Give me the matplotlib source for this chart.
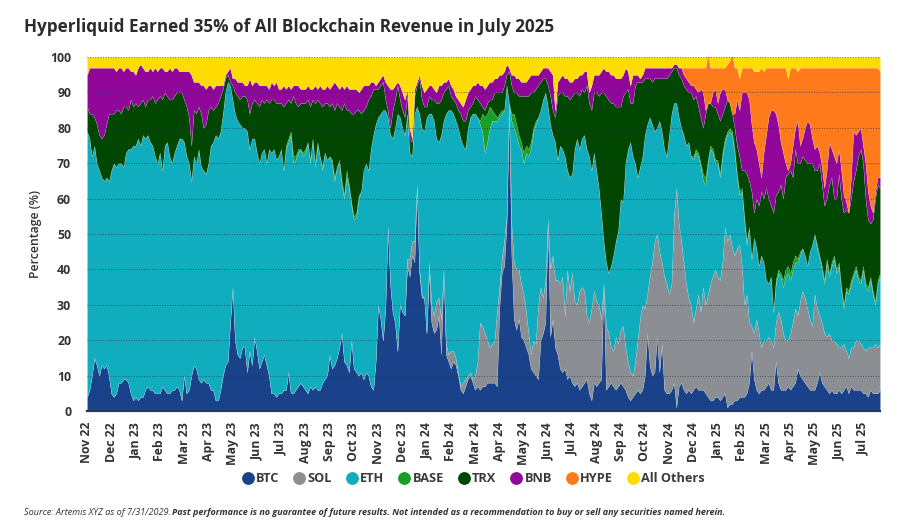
import numpy as np
import matplotlib
matplotlib.use('Agg')
import matplotlib.pyplot as plt
from matplotlib.lines import Line2D

plt.rcParams['font.family'] = ['Open Sans', 'DejaVu Sans']

months = ['Nov 22', 'Dec 22', 'Jan 23', 'Feb 23', 'Mar 23', 'Apr 23', 'May 23', 'Jun 23', 'Jul 23', 'Aug 23', 'Sep 23',
          'Oct 23', 'Nov 23', 'Dec 23', 'Jan 24', 'Feb 24', 'Mar 24', 'Apr 24', 'May 24', 'Jun 24', 'Jul 24', 'Aug 24',
          'Sep 24', 'Oct 24', 'Nov 24', 'Dec 24', 'Jan 25', 'Feb 25', 'Mar 25', 'Apr 25', 'May 25', 'Jun 25', 'Jul 25']
points_per_month = 10

# 10 readings per month, one month per row
btc = [4, 6, 10, 15, 13, 10, 13, 12, 13, 10,
       5, 4, 5, 8, 8, 9, 9, 8, 5, 3,
       4, 3, 4, 4, 6, 7, 6, 6, 5, 5,
       5, 7, 6, 5, 5, 6, 6, 7, 6, 3,
       10, 5, 6, 10, 13, 12, 9, 8, 9, 8,
       8, 6, 6, 3, 3, 6, 10, 13, 14, 25,
       35, 20, 16, 15, 18, 18, 11, 17, 13, 21,
       17, 12, 14, 16, 13, 10, 5, 5, 4, 5,
       5, 6, 6, 11, 5, 5, 6, 7, 8, 7,
       6, 5, 7, 6, 7, 6, 6, 8, 9, 10,
       16, 12, 13, 15, 18, 22, 14, 13, 11, 20,
       12, 11, 10, 11, 9, 11, 10, 7, 6, 14,
       30, 26, 20, 29, 52, 36, 28, 25, 17, 30,
       28, 27, 41, 38, 44, 42, 63, 39, 32, 32,
       22, 39, 25, 22, 23, 27, 16, 40, 16, 14,
       12, 14, 13, 10, 6, 5, 7, 9, 10, 8,
       6, 7, 6, 7, 7, 8, 8, 8, 8, 7,
       29, 39, 41, 53, 85, 44, 26, 23, 26, 21,
       20, 18, 16, 12, 11, 10, 9, 20, 22, 25,
       54, 21, 26, 18, 16, 12, 11, 12, 9, 10,
       8, 7, 8, 6, 7, 8, 9, 5, 3, 8,
       7, 8, 9, 36, 6, 7, 8, 7, 6, 7,
       8, 7, 6, 4, 3, 4, 5, 6, 5, 6,
       10, 22, 13, 10, 11, 21, 11, 19, 6, 5,
       5, 6, 8, 1, 7, 8, 6, 5, 6, 5,
       6, 7, 6, 6, 6, 5, 4, 3, 3, 4,
       4, 3, 4, 5, 1, 2, 2, 3, 3, 4,
       4, 4, 5, 8, 17, 9, 6, 5, 6, 6,
       7, 8, 6, 6, 14, 8, 6, 6, 6, 7,
       6, 7, 8, 12, 10, 9, 8, 7, 6, 6,
       6, 8, 11, 8, 7, 6, 5, 6, 5, 5,
       6, 5, 6, 7, 5, 7, 6, 6, 6, 6,
       5, 5, 4, 6, 5, 5, 5, 6]
sol = [0] * 130 + [
       0, 0, 2, 5, 4, 6, 1, 1, 1, 0,
       0, 3, 5, 5, 8, 5, 10, 0, 3, 2,
       5, 3, 2, 1, 1, 3, 2, 1, 1, 1,
       4, 7, 19, 17, 15, 12, 10, 11, 12, 21,
       6, 4, 7, 2, 2, 9, 16, 17, 14, 15,
       13, 10, 6, 4, 9, 9, 21, 15, 10, 12,
       0, 19, 18, 19, 21, 24, 27, 15, 31, 24,
       31, 24, 22, 28, 28, 26, 18, 20, 26, 26,
       24, 22, 17, 0, 18, 15, 10, 10, 15, 12,
       15, 17, 12, 10, 8, 6, 9, 14, 21, 24,
       19, 11, 25, 32, 37, 29, 34, 23, 32, 31,
       28, 30, 47, 62, 46, 40, 36, 31, 26, 25,
       19, 22, 27, 22, 29, 25, 29, 33, 35, 36,
       34, 34, 38, 47, 47, 48, 44, 41, 43, 43,
       37, 26, 28, 17, 7, 13, 20, 17, 12, 14,
       13, 13, 14, 12, 11, 20, 20, 16, 14, 13,
       16, 18, 21, 15, 21, 25, 24, 22, 20, 18,
       27, 21, 16, 17, 15, 15, 17, 14, 15, 14,
       12, 13, 13, 10, 10, 11, 12, 14, 14, 13,
       13, 12, 14, 12, 13, 14, 13, 13]
# upper edge of the ETH band
eth_top = [79, 77, 72, 75, 70, 68, 66, 65, 66, 65,
           68, 70, 69, 70, 70, 69, 73, 74, 74, 75,
           75, 77, 75, 78, 77, 78, 76, 75, 72, 70,
           73, 68, 75, 76, 72, 70, 73, 75, 77, 77,
           76, 72, 70, 65, 72, 70, 74, 69, 68, 67,
           70, 75, 76, 78, 77, 79, 84, 90, 93, 92,
           88, 84, 82, 81, 80, 80, 79, 74, 77, 77,
           73, 70, 73, 74, 70, 74, 73, 74, 71, 72,
           74, 68, 74, 76, 78, 70, 71, 73, 74, 72,
           73, 76, 70, 77, 69, 75, 72, 68, 73, 71,
           72, 70, 65, 69, 70, 64, 60, 66, 63, 58,
           54, 55, 60, 62, 68, 70, 68, 74, 78, 81,
           83, 84, 85, 85, 83, 78, 77, 80, 84, 83,
           80, 78, 84, 73, 72, 84, 86, 84, 80, 79,
           83, 84, 84, 82, 77, 76, 78, 82, 84, 85,
           85, 84, 82, 80, 77, 75, 74, 80, 83, 84,
           84, 83, 81, 79, 73, 76, 80, 82, 82, 82,
           83, 84, 85, 92, 86, 82, 80, 78, 75, 74,
           70, 73, 72, 74, 79, 81, 83, 85, 88, 90,
           86, 81, 78, 76, 71, 75, 74, 72, 68, 66,
           67, 74, 77, 74, 77, 78, 74, 72, 68, 73,
           68, 63, 56, 48, 42, 39, 41, 44, 48, 51,
           60, 59, 70, 74, 76, 72, 70, 66, 69, 72,
           78, 81, 83, 81, 79, 80, 82, 79, 74, 72,
           78, 84, 87, 87, 83, 80, 78, 75, 76, 72,
           71, 73, 72, 69, 65, 64, 70, 74, 73, 70,
           70, 66, 72, 76, 78, 79, 78, 73, 66, 61,
           62, 54, 47, 52, 43, 49, 46, 41, 44, 42,
           37, 36, 38, 28, 36, 39, 38, 35, 38, 39,
           37, 40, 42, 42, 44, 46, 44, 41, 45, 47,
           50, 46, 43, 40, 36, 42, 38, 41, 43, 39,
           41, 34, 29, 34, 33, 36, 38, 40, 37, 36,
           40, 35, 34, 37, 33, 30, 36, 38]
base = [0] * 80 + [
        0, 0, 1, 1, 1, 2, 1, 1, 0, 1,
        1, 0, 1, 0, 1, 1, 0, 1, 0, 0,
        0, 1, 1, 0, 1, 1, 1, 2, 1, 1,
        1, 1, 1, 0, 0, 0, 0, 0, 0, 0] + [0] * 40 + [
        0, 0, 1, 5, 10, 8, 6, 3, 2, 1,
        1, 1, 0, 0, 0, 2, 4, 3, 3, 2,
        3, 2, 2, 2, 1, 1, 0, 0, 0, 0] + [0] * 60 + [
        1, 1, 1, 1, 2, 2, 1, 1, 1, 1,
        1, 1, 1, 1, 1, 1, 1, 1, 1, 1,
        1, 1, 1, 0, 0, 0, 0, 0, 0, 0,
        0, 0, 0, 0, 1, 1, 1, 2, 2, 2,
        2, 2, 2, 1, 1, 0, 0, 0, 0, 0,
        0, 1, 1, 1, 1, 1, 1, 1, 1, 1,
        1, 1, 1, 1, 1, 1, 1, 1, 1, 1,
        1, 1, 1, 1, 1, 1, 1, 1]
# upper edge of the TRX band
trx_top = [86, 84, 84, 83, 81, 78, 77, 78, 81, 84,
           84, 84, 85, 85, 84, 86, 86, 85, 88, 86,
           87, 86, 87, 88, 86, 88, 88, 89, 87, 88,
           89, 88, 90, 89, 88, 88, 89, 90, 90, 90,
           88, 86, 83, 75, 85, 84, 86, 84, 80, 81,
           85, 86, 85, 86, 87, 89, 91, 94, 95, 93,
           92, 90, 89, 88, 89, 89, 88, 84, 87, 88,
           87, 86, 88, 87, 88, 87, 88, 88, 87, 87,
           87, 86, 87, 88, 87, 89, 87, 86, 87, 87,
           87, 88, 86, 88, 87, 88, 87, 86, 87, 87,
           86, 87, 85, 87, 86, 85, 87, 85, 85, 84,
           84, 85, 85, 84, 85, 86, 88, 89, 91, 91,
           91, 92, 93, 88, 85, 80, 85, 88, 92, 88,
           85, 83, 89, 77, 76, 89, 92, 94, 88, 86,
           86, 89, 88, 88, 87, 87, 88, 90, 91, 92,
           89, 88, 87, 85, 84, 82, 82, 85, 86, 87,
           89, 88, 87, 86, 85, 87, 88, 88, 90, 90,
           90, 90, 92, 95, 96, 92, 90, 90, 89, 89,
           89, 89, 89, 90, 90, 91, 92, 93, 94, 94,
           92, 89, 85, 83, 89, 90, 90, 89, 89, 88,
           89, 90, 90, 89, 91, 90, 92, 87, 85, 90,
           90, 89, 90, 90, 89, 88, 87, 87, 86, 86,
           86, 89, 90, 91, 87, 87, 92, 93, 93, 93,
           94, 94, 94, 93, 94, 94, 94, 94, 94, 94,
           95, 96, 97, 97, 95, 94, 92, 91, 90, 90,
           88, 89, 86, 83, 80, 84, 87, 87, 86, 86,
           84, 82, 84, 86, 88, 87, 84, 80, 75, 72,
           68, 68, 67, 65, 62, 56, 60, 58, 62, 60,
           63, 60, 58, 56, 61, 62, 64, 60, 66, 67,
           68, 66, 74, 70, 70, 72, 71, 70, 70, 70,
           68, 68, 70, 64, 58, 60, 64, 66, 60, 60,
           67, 60, 56, 57, 56, 60, 65, 68, 72, 74,
           70, 60, 54, 53, 54, 60, 64, 63]
# upper edge of the BNB band
bnb_top = [95, 97, 97, 97, 97, 97, 97, 97, 97, 97,
           97, 97, 96, 97, 97, 96, 97, 97, 96, 96,
           95, 97, 98, 97, 96, 96, 97, 96, 97, 96,
           97, 97, 96, 96, 97, 96, 97, 97, 96, 96,
           96, 96, 96, 95, 93, 93, 93, 92, 92, 91,
           92, 92, 91, 92, 92, 92, 92, 95, 96, 97,
           94, 94, 93, 93, 93, 92, 92, 94, 92, 93,
           93, 92, 92, 92, 92, 91, 93, 92, 93, 91,
           91, 92, 91, 92, 91, 92, 92, 92, 91, 91,
           91, 92, 91, 91, 92, 91, 92, 91, 91, 92,
           91, 92, 93, 92, 91, 92, 91, 92, 91, 91,
           91, 91, 90, 91, 92, 92, 92, 93, 93, 92,
           93, 94, 95, 93, 92, 91, 91, 92, 93, 92,
           90, 88, 91, 80, 77, 91, 93, 95, 92, 90,
           91, 92, 92, 91, 90, 92, 92, 93, 93, 94,
           92, 91, 89, 88, 87, 86, 88, 90, 91, 92,
           92, 93, 92, 92, 91, 92, 93, 93, 94, 94,
           95, 95, 96, 98, 97, 95, 95, 94, 94, 93,
           93, 93, 94, 95, 95, 95, 95, 96, 97, 97,
           97, 96, 95, 85, 93, 94, 95, 94, 94, 93,
           93, 94, 94, 95, 95, 96, 96, 90, 92, 95,
           95, 95, 96, 97, 96, 96, 95, 95, 94, 94,
           94, 95, 97, 96, 92, 95, 95, 95, 94, 95,
           97, 97, 97, 97, 97, 97, 97, 97, 97, 97,
           97, 97, 98, 98, 97, 97, 95, 94, 93, 92,
           92, 91, 90, 91, 90, 85, 83, 87, 90, 91,
           87, 90, 91, 91, 87, 85, 80, 84, 88, 85,
           90, 90, 90, 88, 81, 76, 74, 70, 66, 73,
           78, 83, 85, 85, 84, 81, 76, 73, 70, 68,
           70, 75, 80, 82, 75, 77, 80, 82, 81, 77,
           74, 75, 73, 69, 63, 68, 76, 74, 72, 70,
           74, 68, 61, 59, 56, 66, 79, 78, 79, 80,
           75, 70, 62, 58, 56, 62, 66, 66]
hype = [0] * 240 + [
        0, 0, 0, 0, 0, 0, 2, 3, 4, 5,
        5, 6, 7, 6, 7, 12, 14, 10, 7, 6,
        10, 7, 6, 6, 10, 12, 17, 13, 9, 9,
        7, 7, 7, 9, 16, 20, 22, 26, 31, 23,
        19, 14, 12, 12, 13, 16, 21, 24, 27, 26,
        27, 22, 17, 14, 22, 20, 17, 15, 16, 20,
        23, 22, 24, 28, 34, 29, 21, 23, 25, 27,
        23, 29, 36, 38, 41, 31, 18, 19, 18, 17,
        22, 27, 35, 39, 41, 35, 31, 30]
bar_names = ['BTC', 'SOL', 'ETH', 'BASE', 'TRX', 'BNB', 'HYPE', 'All Others']
colors = ['#1a428a', '#8b8e92', '#0fadbe', '#17a023', '#014601', '#90079a', '#ff7a1a', '#ffdc00']

btc = np.array(btc, dtype=float)
sol = np.array(sol, dtype=float)
eth_top = np.array(eth_top, dtype=float)
base = np.array(base, dtype=float)
trx_top = np.array(trx_top, dtype=float)
bnb_top = np.array(bnb_top, dtype=float)
hype = np.array(hype, dtype=float)

# turn the edges into shares so the bands stack up to 100
eth = np.clip(eth_top - btc - sol, 0, None)
trx = np.clip(trx_top - btc - sol - eth - base, 0, None)
bnb = np.clip(bnb_top - btc - sol - eth - base - trx, 0, None)
others = np.clip(100 - btc - sol - eth - base - trx - bnb - hype, 0, None)
x = np.arange(len(btc)) / points_per_month

fig = plt.figure(figsize=(9, 5.22), dpi=100)
ax = fig.add_axes([87 / 900, 1 - 411 / 522, 793 / 900, 354 / 522])
ax.stackplot(x, btc, sol, eth, base, trx, bnb, hype, others, colors=colors, linewidth=0.3, edgecolor='#ffffff40')
ax.set_xlim(0, x[-1])
ax.set_ylim(0, 100)

ax.set_yticks(np.arange(0, 101, 10))
ax.set_xticks(np.arange(len(months)))
ax.set_xticklabels(months, rotation=90, fontsize=8.8, fontweight='bold', color='#333333')
ax.tick_params(axis='y', length=0, pad=11.5, labelsize=8.8, labelcolor='#333333')
ax.tick_params(axis='x', length=0, pad=8)
for lab in ax.get_yticklabels():
    lab.set_fontweight('bold')
ax.grid(axis='y', linestyle=':', linewidth=0.7, color='#30304a', alpha=0.7)
ax.set_axisbelow(False)
for gl in ax.get_ygridlines():
    gl.set_clip_on(False)
for s in ['top', 'right', 'left']:
    ax.spines[s].set_visible(False)
ax.spines['bottom'].set_color('#26395f')
ax.spines['bottom'].set_linewidth(1.6)

fig.text(36 / 900, 1 - 234 / 522, 'Percentage (%)', rotation=90, va='center', ha='center',
         fontsize=8.8, fontweight=600, color='#333333')
fig.text(24 / 900, 1 - 27 / 522, 'Hyperliquid Earned 35% of All Blockchain Revenue in July 2025',
         va='center', ha='left', fontsize=12.3, fontweight='bold', color='#2b2b2b')

handles = [Line2D([], [], linestyle='none', marker='o', markersize=8.2, color=c) for c in colors]
fig.legend(handles, bar_names, loc='center', bbox_to_anchor=(473 / 900, 1 - 479 / 522), ncol=8, frameon=False,
           handlelength=1.0, handletextpad=0.15, columnspacing=1.06,
           prop={'size': 9.2, 'weight': 'bold'}, labelcolor='#3a3a3a')

fig.text(24 / 900, 1 - 512.5 / 522, 'Source: Artemis XYZ as of 7/31/2029.', va='center', ha='left',
         fontsize=6.6, style='italic', color='#333333')
fig.text(172 / 900, 1 - 512.5 / 522,
         'Past performance is no guarantee of future results. Not intended as a recommendation to buy or sell any securities named herein.',
         va='center', ha='left', fontsize=6.52, style='italic', fontweight='bold', color='#333333')

fig.savefig('out.png', dpi=100)
